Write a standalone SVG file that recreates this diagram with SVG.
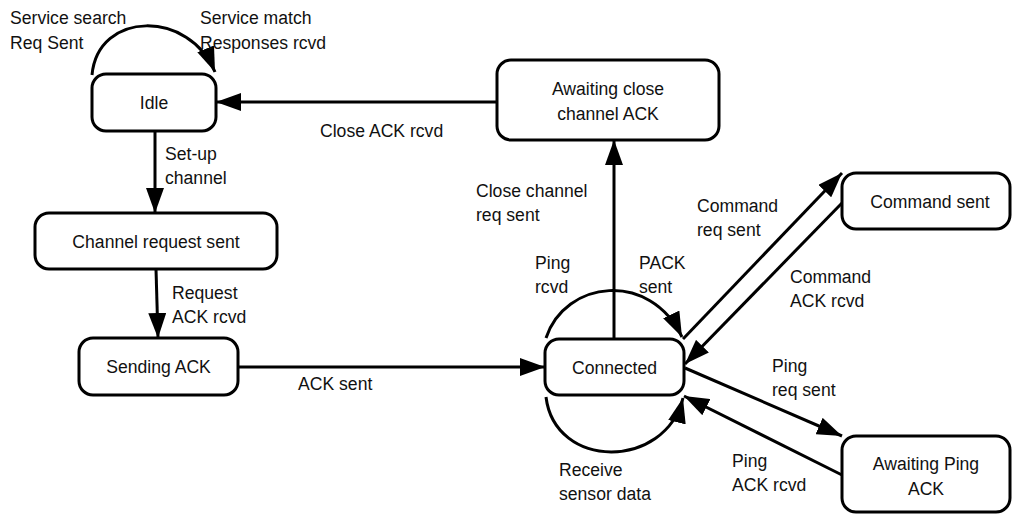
<svg xmlns="http://www.w3.org/2000/svg" width="1012" height="514" viewBox="0 0 1012 514">
<defs>
<marker id="arr" markerUnits="userSpaceOnUse" markerWidth="26" markerHeight="18" refX="25" refY="9" orient="auto">
<path d="M0,0 L25,9 L0,18 z" fill="#000"/>
</marker>
<style>
.node rect{fill:#fff;stroke:#000;stroke-width:3}
text{font-family:"Liberation Sans",Arial,Helvetica,sans-serif;font-size:17.6px;fill:#111}
.c{text-anchor:middle}
.edge{fill:none;stroke:#000;stroke-width:3;marker-end:url(#arr)}
</style>
</defs>
<rect width="1012" height="514" fill="#fff"/>
<g id="connectors">
<path class="edge" d="M92,75 C98,10 190,10 215,72"/>
<path class="edge" d="M497,102 L216,102"/>
<path class="edge" d="M155,131 L155,213"/>
<path class="edge" d="M156,269 L158,338"/>
<path class="edge" d="M238,367 L545,367"/>
<path class="edge" d="M614,339 L614,140"/>
<path class="edge" d="M546,338 C565,280 650,270 682,337"/>
<path class="edge" d="M546,397 C555,470 665,470 683,398"/>
<path class="edge" d="M683,339 L842,173"/>
<path class="edge" d="M842,203 L685,364"/>
<path class="edge" d="M685,368 L842,436"/>
<path class="edge" d="M842,475 L684,396"/>
</g>
<g id="labels">
<text x="10" y="24">Service search</text>
<text x="10" y="49">Req Sent</text>
<text x="200" y="24">Service match</text>
<text x="200" y="49">Responses rcvd</text>
<text x="320" y="137">Close ACK rcvd</text>
<text x="165" y="160">Set-up</text>
<text x="165" y="184">channel</text>
<text x="476" y="197">Close channel</text>
<text x="476" y="221">req sent</text>
<text x="172" y="299">Request</text>
<text x="172" y="323">ACK rcvd</text>
<text x="298" y="390">ACK sent</text>
<text x="535" y="269">Ping</text>
<text x="535" y="293">rcvd</text>
<text x="639" y="269">PACK</text>
<text x="639" y="293">sent</text>
<text x="559" y="476">Receive</text>
<text x="559" y="500">sensor data</text>
<text x="697" y="212">Command</text>
<text x="697" y="236">req sent</text>
<text x="790" y="283">Command</text>
<text x="790" y="307">ACK rcvd</text>
<text x="772" y="372">Ping</text>
<text x="772" y="396">req sent</text>
<text x="732" y="467">Ping</text>
<text x="732" y="491">ACK rcvd</text>
</g>
<g id="idle" class="node"><rect x="92" y="74" width="124" height="57" rx="14"/><text class="c" x="154" y="109">Idle</text></g>
<g id="awaiting-close" class="node"><rect x="497" y="60" width="222" height="80" rx="14"/><text class="c" x="608" y="95">Awaiting close</text><text class="c" x="608" y="120">channel ACK</text></g>
<g id="channel-request" class="node"><rect x="35" y="213" width="242" height="56" rx="14"/><text class="c" x="156" y="248">Channel request sent</text></g>
<g id="sending-ack" class="node"><rect x="79" y="338" width="159" height="57" rx="14"/><text class="c" x="158.5" y="373">Sending ACK</text></g>
<g id="connected" class="node"><rect x="545" y="339" width="139" height="56" rx="14"/><text class="c" x="614.5" y="374">Connected</text></g>
<g id="command-sent" class="node"><rect x="842" y="173" width="168" height="56" rx="14"/><text class="c" x="930" y="208">Command sent</text></g>
<g id="awaiting-ping" class="node"><rect x="842" y="436" width="168" height="76" rx="14"/><text class="c" x="926" y="470">Awaiting Ping</text><text class="c" x="926" y="495">ACK</text></g>
</svg>
